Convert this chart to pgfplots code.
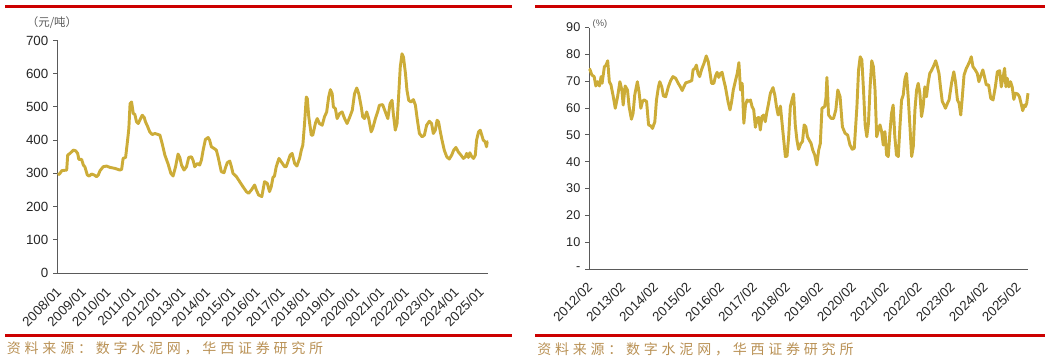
\documentclass[border=0pt]{standalone}
\usepackage{fontspec}
\setmainfont{Liberation Sans}
\newfontfamily\cjk{Noto Sans CJK SC}
\newfontfamily\cjksrc[LetterSpace=27]{Noto Sans CJK SC}
\usepackage{pgfplots}
\pgfplotsset{compat=1.18}
\definecolor{gold}{RGB}{204,172,56}
\definecolor{axisgray}{RGB}{90,90,90}
\definecolor{redline}{RGB}{204,0,0}
\definecolor{srccol}{RGB}{185,145,85}
\begin{document}
\begin{tikzpicture}
\useasboundingbox (0,0) rectangle (785.25pt,271.5pt);
% red rules
\draw[redline, line width=2.25pt] (3.75pt,266.6pt) -- (384pt,266.6pt);
\draw[redline, line width=2.25pt] (401.25pt,266.6pt) -- (783.75pt,266.6pt);
\draw[redline, line width=2.25pt] (3.75pt,20.25pt) -- (384pt,20.25pt);
\draw[redline, line width=2.25pt] (401.25pt,20.25pt) -- (783.75pt,20.25pt);
% sources
\node[anchor=west, inner sep=0pt, text=srccol, font=\cjksrc\fontsize{10.5}{12}\selectfont] at (5pt,10.5pt) {资料来源：数字水泥网，华西证券研究所};
\node[anchor=west, inner sep=0pt, text=srccol, font=\cjksrc\fontsize{10.5}{12}\selectfont] at (402.75pt,9.5pt) {资料来源：数字水泥网，华西证券研究所};
% units
\node[inner sep=0pt, text=axisgray, font=\cjk\fontsize{8.6}{10}\selectfont] at (39pt,254.25pt) {（元/吨）};
\node[inner sep=0pt, text=axisgray, font=\fontsize{7}{8}\selectfont] at (450pt,253.5pt) {(\%)};

\begin{axis}[
  at={(43.5pt,66.75pt)}, anchor=south west,
  scale only axis, width=322.5pt, height=174.375pt,
  xmin=2008, xmax=2025.3, ymin=0, ymax=700,
  axis x line*=bottom, axis y line*=left,
  axis line style={draw=axisgray, line width=0.75pt, -},
  ytick={0,100,...,700},
  xtick={2008,2009,...,2025},
  xticklabels={2008/01,2009/01,2010/01,2011/01,2012/01,2013/01,2014/01,2015/01,2016/01,2017/01,2018/01,2019/01,2020/01,2021/01,2022/01,2023/01,2024/01,2025/01},
  tick align=outside, major tick length=3.75pt,
  xtick style={draw=none},
  ytick style={draw=axisgray, line width=0.75pt},
  /pgf/number format/assume math mode=true,
  yticklabel style={font=\fontsize{10}{12}\selectfont, text=black!85},
  xticklabel style={font=\fontsize{10}{12}\selectfont, text=black!85, xshift=3pt, yshift=-6.5pt, rotate=45, anchor=east},
  clip=false,
]
\addplot[gold, line width=2.2pt, line join=round] coordinates {
(2008.00,295) (2008.08,300) (2008.15,308) (2008.35,310) (2008.39,355) (2008.48,360) (2008.62,370) (2008.71,368) (2008.79,360) (2008.84,342) (2008.95,342) (2009.02,325) (2009.08,320) (2009.18,295) (2009.26,292) (2009.35,298) (2009.46,295) (2009.55,290) (2009.62,295) (2009.69,308) (2009.82,320) (2009.95,322) (2010.09,318) (2010.29,315) (2010.49,310) (2010.56,312) (2010.62,345) (2010.72,348) (2010.80,400) (2010.85,435) (2010.90,510) (2010.96,515) (2011.03,480) (2011.09,478) (2011.16,455) (2011.23,450) (2011.29,460) (2011.39,475) (2011.47,468) (2011.52,455) (2011.60,442) (2011.69,425) (2011.79,417) (2011.90,420) (2012.10,415) (2012.19,390) (2012.30,355) (2012.43,328) (2012.54,300) (2012.63,292) (2012.73,320) (2012.83,358) (2012.90,348) (2012.97,325) (2013.07,310) (2013.17,320) (2013.26,348) (2013.37,350) (2013.44,338) (2013.50,320) (2013.61,330) (2013.70,325) (2013.77,340) (2013.84,370) (2013.93,402) (2014.04,408) (2014.10,400) (2014.17,380) (2014.28,375) (2014.37,370) (2014.44,350) (2014.57,305) (2014.68,302) (2014.73,315) (2014.81,332) (2014.91,337) (2014.97,322) (2015.04,300) (2015.18,290) (2015.31,275) (2015.44,260) (2015.58,245) (2015.67,240) (2015.78,250) (2015.91,265) (2015.98,250) (2016.07,235) (2016.20,230) (2016.31,275) (2016.42,270) (2016.51,245) (2016.58,260) (2016.65,288) (2016.71,292) (2016.78,320) (2016.89,345) (2016.98,335) (2017.12,320) (2017.18,320) (2017.25,335) (2017.34,355) (2017.42,360) (2017.52,330) (2017.61,322) (2017.72,345) (2017.79,370) (2017.85,385) (2017.92,450) (2017.99,530) (2018.03,525) (2018.09,470) (2018.19,415) (2018.25,415) (2018.36,452) (2018.43,465) (2018.52,450) (2018.63,445) (2018.72,470) (2018.81,485) (2018.89,530) (2018.96,552) (2019.03,540) (2019.08,500) (2019.16,495) (2019.23,465) (2019.33,480) (2019.43,485) (2019.53,465) (2019.63,450) (2019.73,468) (2019.84,490) (2019.93,540) (2020.02,557) (2020.10,540) (2020.20,500) (2020.26,470) (2020.33,465) (2020.42,485) (2020.50,465) (2020.60,425) (2020.66,435) (2020.77,465) (2020.86,485) (2020.93,505) (2021.06,507) (2021.17,485) (2021.27,465) (2021.36,510) (2021.44,520) (2021.49,480) (2021.57,430) (2021.64,450) (2021.71,540) (2021.77,620) (2021.84,660) (2021.90,650) (2021.98,600) (2022.04,550) (2022.11,520) (2022.20,515) (2022.30,522) (2022.38,505) (2022.45,465) (2022.54,420) (2022.65,410) (2022.74,415) (2022.83,445) (2022.94,457) (2023.03,450) (2023.10,420) (2023.18,430) (2023.25,460) (2023.31,455) (2023.37,430) (2023.45,400) (2023.54,370) (2023.64,350) (2023.74,343) (2023.84,355) (2023.92,370) (2024.01,378) (2024.10,365) (2024.21,355) (2024.31,345) (2024.39,350) (2024.44,360) (2024.51,348) (2024.57,362) (2024.65,350) (2024.72,345) (2024.79,355) (2024.84,400) (2024.92,425) (2024.99,430) (2025.05,415) (2025.11,400) (2025.19,395) (2025.24,380) (2025.27,395) (2025.30,395)
};
\end{axis}

\begin{axis}[
  at={(441.75pt,69.75pt)}, anchor=south west,
  scale only axis, width=329.25pt, height=181.125pt,
  xmin=2012.083, xmax=2025.40, ymin=0, ymax=90,
  axis x line*=bottom, axis y line*=left,
  axis line style={draw=axisgray, line width=0.75pt, -},
  ytick={0,10,...,90},
  yticklabels={-,10,20,30,40,50,60,70,80,90},
  xtick={2012.083,2013.083,2014.083,2015.083,2016.083,2017.083,2018.083,2019.083,2020.083,2021.083,2022.083,2023.083,2024.083,2025.083},
  xticklabels={2012/02,2013/02,2014/02,2015/02,2016/02,2017/02,2018/02,2019/02,2020/02,2021/02,2022/02,2023/02,2024/02,2025/02},
  tick align=outside, major tick length=3pt,
  xtick style={draw=none},
  ytick style={draw=axisgray, line width=0.75pt},
  /pgf/number format/assume math mode=true,
  yticklabel style={font=\fontsize{9.5}{11}\selectfont, text=black!85},
  xticklabel style={font=\fontsize{10}{12}\selectfont, text=black!85, xshift=3pt, yshift=-6.5pt, rotate=45, anchor=east},
  clip=false,
]
\addplot[gold, line width=2.2pt, line join=round] coordinates {
(2012.083,74.6) (2012.11,74.4) (2012.17,72.3) (2012.24,71.7) (2012.29,68.2) (2012.34,69.8) (2012.40,68.2) (2012.45,71.7) (2012.48,69.2) (2012.55,75.4) (2012.60,76.0) (2012.65,77.6) (2012.70,69.8) (2012.75,68.6) (2012.82,64.2) (2012.88,59.9) (2012.95,64.2) (2013.02,69.8) (2013.08,66.7) (2013.12,61.1) (2013.18,68.2) (2013.25,66.7) (2013.30,60.5) (2013.37,55.8) (2013.42,58.0) (2013.47,64.8) (2013.55,69.8) (2013.60,66.1) (2013.655,59.9) (2013.71,62.6) (2013.76,63.0) (2013.83,62.4) (2013.89,53.7) (2013.96,53.3) (2014.01,52.4) (2014.08,54.9) (2014.13,63.0) (2014.19,67.9) (2014.23,69.8) (2014.29,67.9) (2014.34,64.5) (2014.41,64.2) (2014.49,67.9) (2014.56,70.2) (2014.63,71.7) (2014.71,71.1) (2014.79,69.2) (2014.84,68.2) (2014.91,66.5) (2014.96,67.9) (2015.02,69.4) (2015.12,69.8) (2015.20,70.2) (2015.24,74.2) (2015.30,74.8) (2015.34,76.0) (2015.39,72.9) (2015.44,71.7) (2015.50,74.4) (2015.57,76.6) (2015.64,79.4) (2015.70,77.3) (2015.75,73.5) (2015.80,69.2) (2015.87,69.2) (2015.92,71.9) (2015.97,73.3) (2016.02,71.4) (2016.07,72.9) (2016.12,73.3) (2016.17,70.4) (2016.22,67.9) (2016.30,62.4) (2016.36,59.3) (2016.41,62.4) (2016.46,66.7) (2016.53,70.4) (2016.58,72.9) (2016.63,76.9) (2016.68,66.7) (2016.73,69.2) (2016.78,54.3) (2016.83,61.1) (2016.88,63.0) (2016.93,62.4) (2016.98,63.0) (2017.03,60.5) (2017.08,59.3) (2017.13,52.8) (2017.18,56.1) (2017.23,56.5) (2017.28,51.8) (2017.33,56.8) (2017.38,57.4) (2017.43,54.9) (2017.48,58.6) (2017.53,61.7) (2017.585,65.5) (2017.665,67.6) (2017.72,64.8) (2017.77,60.5) (2017.82,57.4) (2017.89,60.7) (2017.94,54.3) (2017.99,48.1) (2018.04,41.9) (2018.09,42.1) (2018.14,49.3) (2018.19,60.5) (2018.24,63.0) (2018.29,65.2) (2018.34,53.7) (2018.39,48.1) (2018.44,44.6) (2018.51,46.8) (2018.56,47.5) (2018.61,53.7) (2018.66,53.0) (2018.71,49.3) (2018.76,48.1) (2018.82,46.8) (2018.87,44.3) (2018.93,42.5) (2018.995,38.8) (2019.05,44.3) (2019.10,46.8) (2019.15,59.9) (2019.23,60.5) (2019.27,63.6) (2019.30,71.4) (2019.35,57.4) (2019.43,56.1) (2019.50,56.1) (2019.57,59.3) (2019.63,66.7) (2019.70,64.2) (2019.77,53.0) (2019.85,50.6) (2019.93,49.9) (2020.00,46.2) (2020.07,44.6) (2020.13,45.0) (2020.21,60.5) (2020.26,74.2) (2020.31,79.1) (2020.36,77.9) (2020.41,66.7) (2020.46,53.7) (2020.51,49.3) (2020.56,54.3) (2020.61,67.9) (2020.66,77.6) (2020.71,75.4) (2020.76,66.7) (2020.81,49.3) (2020.86,51.8) (2020.91,53.7) (2020.96,51.2) (2021.01,46.2) (2021.06,51.2) (2021.11,42.5) (2021.16,41.9) (2021.21,50.6) (2021.26,58.0) (2021.31,61.1) (2021.36,49.3) (2021.41,42.5) (2021.465,41.9) (2021.515,53.0) (2021.565,63.0) (2021.615,64.8) (2021.665,70.7) (2021.715,72.9) (2021.765,64.2) (2021.82,52.8) (2021.87,41.9) (2021.92,45.6) (2021.97,59.3) (2022.02,66.7) (2022.07,69.2) (2022.12,65.5) (2022.17,56.8) (2022.22,60.5) (2022.27,67.9) (2022.32,64.2) (2022.37,69.2) (2022.42,72.9) (2022.47,73.9) (2022.55,76.0) (2022.60,77.6) (2022.65,75.4) (2022.70,72.9) (2022.75,67.3) (2022.80,62.4) (2022.855,61.1) (2022.895,59.9) (2022.955,61.7) (2023.005,63.0) (2023.08,69.2) (2023.15,73.5) (2023.20,69.8) (2023.26,63.0) (2023.31,61.7) (2023.36,57.4) (2023.40,63.0) (2023.46,72.3) (2023.53,74.8) (2023.58,76.0) (2023.63,77.3) (2023.68,79.1) (2023.73,75.4) (2023.80,74.2) (2023.86,72.9) (2023.91,69.8) (2023.96,71.7) (2024.03,74.2) (2024.08,71.7) (2024.135,68.6) (2024.205,68.6) (2024.27,63.6) (2024.34,63.0) (2024.41,67.9) (2024.47,73.5) (2024.54,73.9) (2024.59,67.9) (2024.64,71.1) (2024.69,74.8) (2024.73,67.9) (2024.77,71.1) (2024.82,67.9) (2024.87,69.8) (2024.92,67.9) (2024.97,63.2) (2025.02,65.5) (2025.09,65.2) (2025.14,64.2) (2025.19,61.7) (2025.24,59.0) (2025.29,61.1) (2025.32,60.5) (2025.36,61.7) (2025.40,65.5)
};
\end{axis}
\end{tikzpicture}
\end{document}
